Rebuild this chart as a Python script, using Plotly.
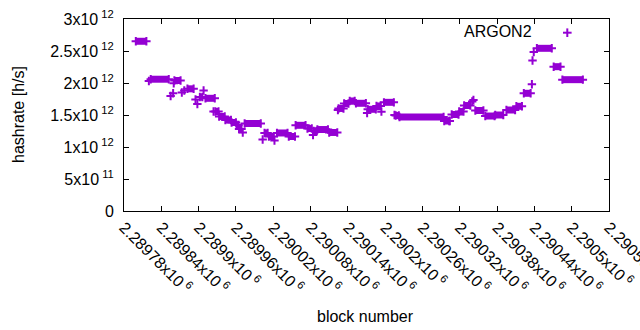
import plotly.graph_objects as go

# ---- data ----
# runs of consecutive blocks with the same hashrate estimate
seg_start = [2289799, 2289823, 2289861, 2289882, 2289902, 2289911, 2289927, 2289933,
             2289943, 2289953, 2289961, 2289965, 2289974, 2290006, 2290013, 2290026,
             2290045, 2290056, 2290075, 2290085, 2290091, 2290110, 2290125, 2290134,
             2290143, 2290153, 2290172, 2290186, 2290198, 2290217, 2290223, 2290295,
             2290307, 2290319, 2290327, 2290345, 2290361, 2290377, 2290395, 2290411,
             2290423, 2290444, 2290471, 2290485]
seg_end = [2289816, 2289852, 2289871, 2289892, 2289906, 2289926, 2289932, 2289942,
           2289952, 2289960, 2289964, 2289969, 2290000, 2290011, 2290021, 2290043,
           2290055, 2290072, 2290082, 2290090, 2290108, 2290123, 2290133, 2290141,
           2290151, 2290169, 2290185, 2290193, 2290214, 2290222, 2290294, 2290303,
           2290318, 2290326, 2290337, 2290358, 2290376, 2290390, 2290409, 2290420,
           2290434, 2290468, 2290482, 2290518]
seg_hashrate = [2.652e12, 2.059e12, 2.039e12, 1.909e12, 1.781e12, 1.761e12, 1.555e12, 1.477e12,
                1.422e12, 1.383e12, 1.344e12, 1.281e12, 1.367e12, 1.219e12, 1.164e12, 1.219e12,
                1.164e12, 1.339e12, 1.289e12, 1.250e12, 1.273e12, 1.227e12, 1.602e12, 1.680e12,
                1.719e12, 1.683e12, 1.589e12, 1.641e12, 1.698e12, 1.492e12, 1.469e12, 1.406e12,
                1.508e12, 1.555e12, 1.648e12, 1.570e12, 1.484e12, 1.500e12, 1.578e12, 1.636e12,
                1.839e12, 2.542e12, 2.255e12, 2.052e12]

# isolated blocks
pt_block = [2289820, 2289855, 2289859, 2289860, 2289873, 2289877, 2289895, 2289898,
            2289908, 2289924, 2289971, 2290003, 2290022, 2290084, 2290124, 2290171,
            2290194, 2290215, 2290304, 2290340, 2290342, 2290436, 2290437, 2290439]
pt_hashrate = [2.031e12, 1.797e12, 1.839e12, 1.995e12, 1.852e12, 1.883e12, 1.742e12, 1.672e12,
               1.883e12, 1.555e12, 1.227e12, 1.117e12, 1.102e12, 1.188e12, 1.578e12, 1.531e12,
               1.552e12, 1.500e12, 1.406e12, 1.711e12, 1.734e12, 1.980e12, 2.352e12, 2.484e12]

x_tick_vals = [2289780, 2289840, 2289900, 2289960, 2290020, 2290080, 2290140,
               2290200, 2290260, 2290320, 2290380, 2290440, 2290500, 2290560]
x_tick_text = ["2.28978x10<sup> 6</sup>", "2.28984x10<sup> 6</sup>", "2.2899x10<sup> 6</sup>",
               "2.28996x10<sup> 6</sup>", "2.29002x10<sup> 6</sup>", "2.29008x10<sup> 6</sup>",
               "2.29014x10<sup> 6</sup>", "2.2902x10<sup> 6</sup>", "2.29026x10<sup> 6</sup>",
               "2.29032x10<sup> 6</sup>", "2.29038x10<sup> 6</sup>", "2.29044x10<sup> 6</sup>",
               "2.2905x10<sup> 6</sup>", "2.29056x10<sup> 6</sup>"]
y_tick_vals = [0, 5e11, 1e12, 1.5e12, 2e12, 2.5e12, 3e12]
y_tick_text = ["0", "5x10<sup> 11</sup>", "1x10<sup> 12</sup>", "1.5x10<sup> 12</sup>",
               "2x10<sup> 12</sup>", "2.5x10<sup> 12</sup>", "3x10<sup> 12</sup>"]

COLOR = "#9400D3"
FONT = "Liberation Sans, Arial, sans-serif"

fig = go.Figure()

# runs drawn as thick bands (overlapping '+' marks)
lx, ly = [], []
for s, e, v in zip(seg_start, seg_end, seg_hashrate):
    lx += [s, e, None]
    ly += [v, v, None]
fig.add_trace(go.Scatter(x=lx, y=ly, mode="lines",
                         line=dict(color=COLOR, width=7), hoverinfo="skip",
                         showlegend=False))

mx = list(seg_start) + list(seg_end) + list(pt_block)
my = list(seg_hashrate) + list(seg_hashrate) + list(pt_hashrate)
fig.add_trace(go.Scatter(x=mx, y=my, mode="markers",
                         marker=dict(symbol="cross-thin", size=6, color=COLOR,
                                     line=dict(color=COLOR, width=2)),
                         showlegend=False))

axis_common = dict(showline=True, linecolor="black", linewidth=1, mirror="ticks",
                   ticks="inside", ticklen=5, tickcolor="black", tickwidth=1,
                   showgrid=False, zeroline=False,
                   tickfont=dict(family=FONT, size=16, color="black"))

fig.update_xaxes(range=[2289780, 2290560], tickvals=x_tick_vals, ticktext=x_tick_text,
                 tickangle=45, ticklabeloverflow="allow", **axis_common)
fig.update_yaxes(range=[0, 3e12], tickvals=y_tick_vals, ticktext=y_tick_text,
                 ticklabelstandoff=6, **axis_common)

PL, PR, PT, PB = 124, 609, 19, 211
W, H = 640, 330


def px_x(x):
    return (x - PL) / (PR - PL)


def px_y(y):
    return (PB - y) / (PB - PT)


fig.update_layout(
    width=W, height=H,
    margin=dict(l=PL, r=W - PR, t=PT, b=H - PB, autoexpand=False),
    paper_bgcolor="white", plot_bgcolor="white",
    font=dict(family=FONT, size=16, color="black"),
    annotations=[
        dict(text="block number", xref="paper", yref="paper",
             x=px_x(365), y=px_y(316), xanchor="center", yanchor="middle",
             showarrow=False, font=dict(size=16)),
        dict(text="hashrate [h/s]", xref="paper", yref="paper",
             x=px_x(18), y=px_y(115), xanchor="center", yanchor="middle",
             textangle=-90, showarrow=False, font=dict(size=16)),
        dict(text="ARGON2", xref="paper", yref="paper",
             x=px_x(534), y=px_y(31), xanchor="right", yanchor="middle",
             showarrow=False, font=dict(size=16)),
    ],
    shapes=[
        dict(type="line", xref="paper", yref="paper",
             x0=px_x(563), x1=px_x(571.6), y0=px_y(32.7), y1=px_y(32.7),
             line=dict(color=COLOR, width=2)),
        dict(type="line", xref="paper", yref="paper",
             x0=px_x(567.3), x1=px_x(567.3), y0=px_y(28.4), y1=px_y(37),
             line=dict(color=COLOR, width=2)),
    ],
)

fig.write_html("out.html", config={"displayModeBar": False})
